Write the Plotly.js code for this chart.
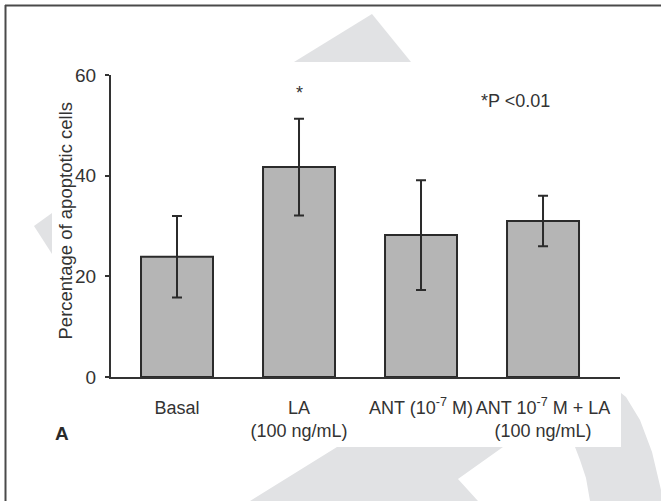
<!DOCTYPE html>
<html>
<head>
<meta charset="utf-8">
<script src="https://cdn.plot.ly/plotly-3.0.1.min.js"></script>
<style>
html,body{margin:0;padding:0;background:#fff;}
#chart{width:661px;height:501px;}
</style>
</head>
<body>
<div id="chart"></div>
<script>
// ---- data ----
var categories = ["Basal", "LA", "ANT", "ANT+LA"];
var tickLabels = [
  "Basal",
  "LA<br>(100 ng/mL)",
  "ANT (10<sup>-7</sup> M)",
  "ANT 10<sup>-7</sup> M + LA<br>(100 ng/mL)"
];
var meanValues = [23.9, 41.7, 28.2, 31.0];
var errorValues = [8.1, 9.6, 10.9, 5.0];
var yTicks = [0, 20, 40, 60];
var sigCategoryIndex = 1;

// ---- layout helpers (pixel -> paper) ----
var W = 661, H = 501;
var L = 111, R = 620, T = 75, B = 377;
function px(x) { return (x - L) / (R - L); }
function py(y) { return (B - y) / (B - T); }
function poly(pts) {
  return pts.map(function (p, i) {
    return (i ? "L" : "M") + px(p[0]).toFixed(4) + "," + py(p[1]).toFixed(4);
  }).join(" ") + " Z";
}

var FONT = '"Liberation Sans", Arial, Helvetica, sans-serif';
var TXT = "#333333";
var WM = "#e1e2e4";

var watermark = [
  [[294, 62], [411, 62], [372, 14]],
  [[34, 226], [52, 213], [52, 254]],
  [[250, 501], [337, 447], [503, 447], [458, 479], [478, 501]],
  [[575, 447], [621, 447], [621, 393], [626, 397], [640, 420], [652, 452], [661, 490], [661, 501], [590, 501], [586, 478], [580, 460]]
];

var shapes = watermark.map(function (pts) {
  return {type: "path", xref: "paper", yref: "paper", layer: "below",
    path: poly(pts), fillcolor: WM, line: {width: 0}};
});
shapes.push({type: "line", xref: "paper", yref: "paper", layer: "above",
  x0: px(5), x1: px(661), y0: py(5.5), y1: py(5.5), line: {color: "#4a4a4a", width: 2}});
shapes.push({type: "line", xref: "paper", yref: "paper", layer: "above",
  x0: px(5.5), x1: px(5.5), y0: py(5), y1: py(501), line: {color: "#4a4a4a", width: 2}});

var xIdx = categories.map(function (c, i) { return i; });

var trace = {
  type: "bar",
  x: xIdx,
  y: meanValues,
  width: 0.59,
  marker: {color: "#b5b5b5", line: {color: "#2b2b2b", width: 2}},
  error_y: {type: "data", array: errorValues, visible: true, color: "#2b2b2b", thickness: 2, width: 5},
  hoverinfo: "none"
};

var layout = {
  width: W, height: H,
  margin: {l: L, r: W - R, t: T, b: H - B, pad: 0},
  paper_bgcolor: "rgba(0,0,0,0)",
  plot_bgcolor: "rgba(0,0,0,0)",
  showlegend: false,
  font: {family: FONT, size: 18, color: TXT},
  xaxis: {
    range: [-0.541, 3.631],
    tickmode: "array", tickvals: xIdx, ticktext: tickLabels,
    tickangle: 0,
    showline: true, linecolor: "#333333", linewidth: 2,
    ticks: "", showgrid: false, zeroline: false,
    ticklabelstandoff: 13,
    ticklabeloverflow: "allow",
    tickfont: {family: FONT, size: 18, color: TXT}
  },
  yaxis: {
    range: [0, 60],
    tickmode: "array", tickvals: yTicks,
    showline: true, linecolor: "#333333", linewidth: 2,
    ticks: "outside", ticklen: 4, tickwidth: 2, tickcolor: "#333333",
    showgrid: false, zeroline: false,
    ticklabelstandoff: 5,
    tickfont: {family: FONT, size: 19, color: TXT}
  },
  shapes: shapes,
  annotations: [
    {xref: "paper", yref: "paper", x: px(65), y: py(220.5), xanchor: "center", yanchor: "middle",
      text: "Percentage of apoptotic cells", textangle: -90, showarrow: false,
      font: {family: FONT, size: 18.5, color: TXT}},
    {xref: "x", yref: "paper", x: sigCategoryIndex, y: py(92.5), xanchor: "center", yanchor: "middle",
      text: "*", showarrow: false, font: {family: FONT, size: 18, color: TXT}},
    {xref: "paper", yref: "paper", x: px(515), y: py(101.5), xanchor: "center", yanchor: "middle",
      text: "*P <0.01", showarrow: false, font: {family: FONT, size: 18, color: TXT}},
    {xref: "paper", yref: "paper", x: px(61.7), y: py(433), xanchor: "center", yanchor: "middle",
      text: "<b>A</b>", showarrow: false,
      font: {family: FONT, size: 19, color: "#2a2a2a"}}
  ]
};

Plotly.newPlot("chart", [trace], layout, {staticPlot: true, displayModeBar: false});
</script>
</body>
</html>
